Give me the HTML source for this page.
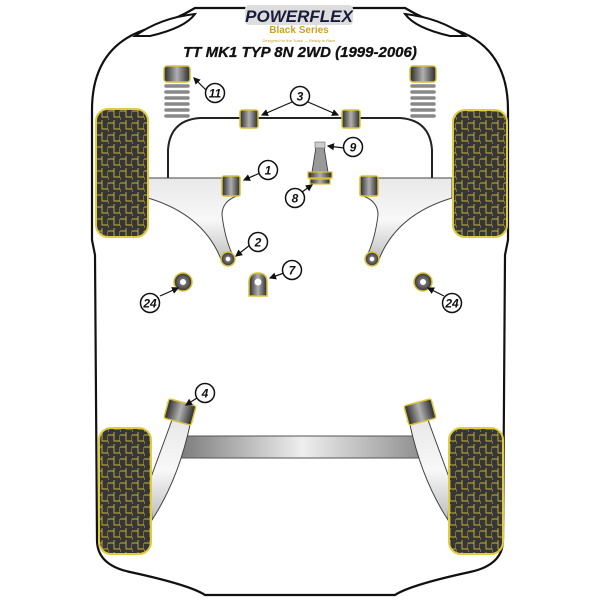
<!DOCTYPE html>
<html><head><meta charset="utf-8"><style>
html,body{margin:0;padding:0;background:#fff;width:600px;height:600px;overflow:hidden}
svg{display:block}
text{font-family:"Liberation Sans",sans-serif}
</style></head><body>
<svg width="600" height="600" viewBox="0 0 600 600" xmlns="http://www.w3.org/2000/svg">
<defs>
<pattern id="tread" width="12" height="12" patternUnits="userSpaceOnUse">
<rect width="12" height="12" fill="#363636"/>
<path d="M0 3 H6 V9 H12 M6 0 V3 M0 9 V12 M12 3 V9" stroke="#c9b435" stroke-width="0.9" fill="none"/>
</pattern>
<linearGradient id="arm" x1="0" y1="0" x2="0" y2="1"><stop offset="0" stop-color="#e8e8e8"/><stop offset="0.5" stop-color="#f8f8f8"/><stop offset="1" stop-color="#bdbdbd"/></linearGradient>
<linearGradient id="beam" x1="0" y1="0" x2="1" y2="0"><stop offset="0" stop-color="#777"/><stop offset="0.5" stop-color="#eee"/><stop offset="1" stop-color="#888"/></linearGradient>
<linearGradient id="bush" x1="0" y1="0" x2="1" y2="0"><stop offset="0" stop-color="#2a2a2a"/><stop offset="0.5" stop-color="#b0b0b0"/><stop offset="1" stop-color="#2a2a2a"/></linearGradient>
<radialGradient id="rb"><stop offset="0.3" stop-color="#fff"/><stop offset="0.35" stop-color="#777"/><stop offset="1" stop-color="#333"/></radialGradient>
<marker id="ah" markerWidth="6" markerHeight="6" refX="5" refY="3" orient="auto"><path d="M0 0 L6 3 L0 6 Z" fill="#111"/></marker>
</defs>
<path d="M92 110 Q92 45 150 28 Q175 20 195 8 L405 8 Q425 20 450 28 Q508 45 508 110 L508 240 L505 255 L503 540 Q503 565 470 572 Q410 585 395 595 L205 595 Q190 585 130 572 Q97 565 97 540 L95 255 L92 240 Z" fill="#fff" stroke="#111" stroke-width="2.2"/>
<path d="M135 36 Q160 18 195 14 Q185 28 150 36 Z" fill="#fff" stroke="#111" stroke-width="2"/>
<path d="M465 36 Q440 18 405 14 Q415 28 450 36 Z" fill="#fff" stroke="#111" stroke-width="2"/>
<rect x="245" y="5" width="108" height="20" rx="4" fill="#ddd"/>
<text x="299" y="22" text-anchor="middle" font-size="17" font-weight="bold" font-style="italic" fill="#1a1a3a">POWERFLEX</text>
<text x="299" y="33" text-anchor="middle" font-size="10" font-weight="bold" fill="#c9a227">Black Series</text>
<text x="299" y="42" text-anchor="middle" font-size="4" fill="#c9a227">Designed for the Track — Ready to Race</text>
<text x="300" y="57" text-anchor="middle" font-size="15" font-weight="bold" font-style="italic" fill="#111" stroke="#111" stroke-width="0.3">TT MK1 TYP 8N 2WD (1999-2006)</text>
<g id="spr">
<rect x="164" y="66" width="26" height="16" rx="3" fill="url(#bush)" stroke="#d8c23a" stroke-width="1.5"/>
<path d="M166 86 H188 M166 92 H188 M166 98 H188 M166 104 H188 M166 110 H188 M166 116 H188" stroke="#888" stroke-width="3.5" stroke-linecap="round"/>
</g>
<use href="#spr" transform="translate(246,0)"/>
<path d="M168 178 L168 150 Q170 120 200 118 L400 118 Q430 120 432 150 L432 178" fill="none" stroke="#222" stroke-width="2"/>
<rect x="240" y="110" width="18" height="18" rx="2" fill="url(#bush)" stroke="#d8c23a" stroke-width="1.5"/>
<rect x="342" y="110" width="18" height="18" rx="2" fill="url(#bush)" stroke="#d8c23a" stroke-width="1.5"/>
<path d="M148 178 L240 178 L240 195 Q222 200 222 215 Q225 240 234 258 L222 262 Q205 215 148 198 Z" fill="url(#arm)" stroke="#444" stroke-width="1"/>
<path d="M452 178 L360 178 L360 195 Q378 200 378 215 Q375 240 366 258 L378 262 Q395 215 452 198 Z" fill="url(#arm)" stroke="#444" stroke-width="1"/>
<rect x="222" y="176" width="18" height="20" rx="2" fill="url(#bush)" stroke="#d8c23a" stroke-width="1.5"/>
<rect x="360" y="176" width="18" height="20" rx="2" fill="url(#bush)" stroke="#d8c23a" stroke-width="1.5"/>
<circle cx="228" cy="259" r="7" fill="url(#rb)" stroke="#d8c23a" stroke-width="1.5"/>
<circle cx="372" cy="259" r="7" fill="url(#rb)" stroke="#d8c23a" stroke-width="1.5"/>
<path d="M316 147 L324 147 L328 172 L312 172 Z" fill="#999" stroke="#333" stroke-width="0.8"/>
<rect x="315" y="142" width="10" height="6" fill="#ccc" stroke="#666" stroke-width="0.6"/>
<rect x="308" y="172" width="24" height="6" fill="url(#bush)" stroke="#d8c23a" stroke-width="1.2"/>
<rect x="310" y="179" width="20" height="5" fill="url(#bush)" stroke="#d8c23a" stroke-width="1.2"/>
<path d="M249 296 L249 282 Q249 273 258 273 Q267 273 267 282 L267 296 Z" fill="url(#bush)" stroke="#d8c23a" stroke-width="1.5"/>
<circle cx="258" cy="282" r="3.5" fill="#fff"/>
<circle cx="183" cy="282" r="9" fill="url(#rb)" stroke="#d8c23a" stroke-width="1.5"/>
<circle cx="423" cy="282" r="9" fill="url(#rb)" stroke="#d8c23a" stroke-width="1.5"/>
<rect x="175" y="436" width="255" height="22" fill="url(#beam)" stroke="#555" stroke-width="1"/>
<path d="M172 420 L190 425 Q178 480 152 520 L150 480 Z" fill="url(#arm)" stroke="#444" stroke-width="1"/>
<path d="M428 420 L410 425 Q422 480 448 520 L450 480 Z" fill="url(#arm)" stroke="#444" stroke-width="1"/>
<g transform="rotate(15 180 412)"><rect x="166" y="402" width="28" height="20" rx="2" fill="url(#bush)" stroke="#d8c23a" stroke-width="1.5"/></g>
<g transform="rotate(-15 420 412)"><rect x="406" y="402" width="28" height="20" rx="2" fill="url(#bush)" stroke="#d8c23a" stroke-width="1.5"/></g>
<rect x="96" y="109" width="52" height="128" rx="12" fill="url(#tread)" stroke="#e0cc40" stroke-width="2"/>
<rect x="453" y="110" width="54" height="127" rx="12" fill="url(#tread)" stroke="#e0cc40" stroke-width="2"/>
<rect x="99" y="428" width="52" height="126" rx="12" fill="url(#tread)" stroke="#e0cc40" stroke-width="2"/>
<rect x="449" y="428" width="54" height="126" rx="12" fill="url(#tread)" stroke="#e0cc40" stroke-width="2"/>
<g stroke="#111" stroke-width="1.2" fill="none" marker-end="url(#ah)">
<path d="M206 90 L194 78"/><path d="M260 173 L244 180"/><path d="M250 245 L236 256"/>
<path d="M292 102 L262 115"/><path d="M308 102 L338 115"/><path d="M284 273 L270 278"/>
<path d="M302 192 L312 185"/><path d="M344 148 L328 146"/><path d="M160 296 L178 288"/>
<path d="M444 296 L428 288"/><path d="M197 398 L186 405"/>
</g>
<g fill="#fff" stroke="#111" stroke-width="1.5">
<circle cx="215" cy="93" r="9.5"/><circle cx="268" cy="170" r="9.5"/><circle cx="258" cy="242" r="9.5"/>
<circle cx="300" cy="96" r="9.5"/><circle cx="292" cy="270" r="9.5"/><circle cx="295" cy="198" r="9.5"/>
<circle cx="353" cy="147" r="9.5"/><circle cx="150" cy="303" r="9.5"/><circle cx="452" cy="303" r="9.5"/>
<circle cx="205" cy="393" r="9.5"/>
</g>
<g font-size="12" font-weight="bold" font-style="italic" text-anchor="middle" fill="#111">
<text x="215" y="97.5">11</text><text x="268" y="174.5">1</text><text x="258" y="246.5">2</text>
<text x="300" y="100.5">3</text><text x="292" y="274.5">7</text><text x="295" y="202.5">8</text>
<text x="353" y="151.5">9</text><text x="150" y="307.5">24</text><text x="452" y="307.5">24</text>
<text x="205" y="397.5">4</text>
</g>
</svg>
</body></html>
